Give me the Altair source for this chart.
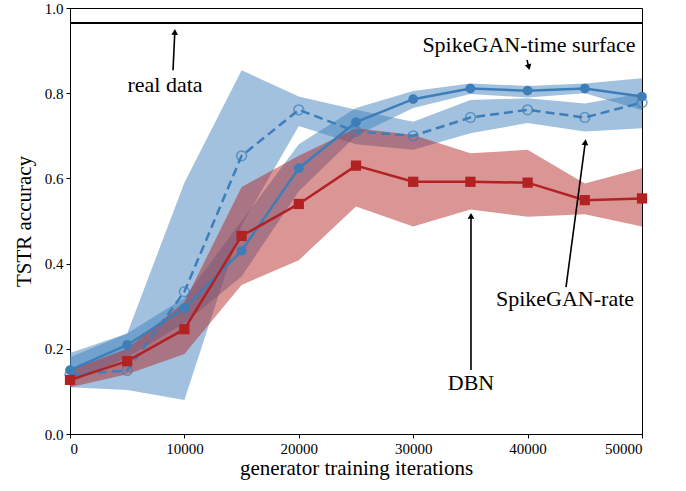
import altair as alt
import pandas as pd

iters = [0, 5000, 10000, 15000, 20000, 25000, 30000, 35000, 40000, 45000, 50000]

ts_mean = [0.150, 0.209, 0.295, 0.430, 0.624, 0.732, 0.786, 0.811, 0.806, 0.811, 0.792]
ts_lo = [0.120, 0.180, 0.260, 0.370, 0.570, 0.700, 0.765, 0.798, 0.790, 0.800, 0.760]
ts_hi = [0.180, 0.236, 0.320, 0.500, 0.680, 0.765, 0.805, 0.823, 0.817, 0.823, 0.835]

rate_mean = [0.140, 0.149, 0.334, 0.653, 0.761, 0.710, 0.700, 0.743, 0.761, 0.743, 0.778]
rate_lo = [0.110, 0.103, 0.080, 0.490, 0.723, 0.680, 0.667, 0.706, 0.730, 0.710, 0.718]
rate_hi = [0.190, 0.236, 0.590, 0.854, 0.792, 0.761, 0.733, 0.784, 0.788, 0.776, 0.800]

dbn_mean = [0.127, 0.171, 0.246, 0.465, 0.540, 0.630, 0.592, 0.592, 0.590, 0.549, 0.553]
dbn_lo = [0.110, 0.140, 0.188, 0.350, 0.408, 0.534, 0.487, 0.527, 0.510, 0.516, 0.487]
dbn_hi = [0.150, 0.200, 0.310, 0.580, 0.653, 0.718, 0.702, 0.659, 0.667, 0.588, 0.624]

real_acc = [0.965]

ann_text = ["real data", "SpikeGAN-time surface", "SpikeGAN-rate", "DBN"]
ann_x = [8304, 40122, 43269, 35052]
ann_y = [0.819, 0.913, 0.317, 0.120]
arr_x = [9004, 39948, 43357, 35052]
arr_y = [0.854, 0.878, 0.345, 0.150]
arr_x2 = [9161, 40105, 45044, 35052]
arr_y2 = [0.9437, 0.861, 0.685, 0.512]
arr_angle = [2.7, 166, 7.6, 0]

BLUE = "#3d7eb9"
RED = "#b22222"
FONT = "Liberation Serif"

df = pd.DataFrame({
    "it": iters,
    "ts": ts_mean, "ts_lo": ts_lo, "ts_hi": ts_hi,
    "rate": rate_mean, "rate_lo": rate_lo, "rate_hi": rate_hi,
    "dbn": dbn_mean, "dbn_lo": dbn_lo, "dbn_hi": dbn_hi,
})
ann = pd.DataFrame({"t": ann_text, "x": ann_x, "y": ann_y})
arr = pd.DataFrame({"x": arr_x, "y": arr_y, "x2": arr_x2, "y2": arr_y2, "a": arr_angle})
real = pd.DataFrame({"y": real_acc})

xs = alt.Scale(domain=[0, 50000], nice=False)
ys = alt.Scale(domain=[0, 1], nice=False)
X = alt.X("it:Q", scale=xs, axis=alt.Axis(values=[0, 10000, 20000, 30000, 40000, 50000], format="d",
                                           title="generator training iterations"))
base = alt.Chart(df)

def Y(f):
    return alt.Y(f + ":Q", scale=ys, axis=alt.Axis(values=[0, 0.2, 0.4, 0.6, 0.8, 1.0], format=".1f",
                                                     title="TSTR accuracy"))

band_rate = base.mark_area(color=BLUE, opacity=0.48).encode(x=X, y=Y("rate_lo"), y2="rate_hi:Q")
band_ts = base.mark_area(color=BLUE, opacity=0.48).encode(x=X, y=Y("ts_lo"), y2="ts_hi:Q")
band_dbn = base.mark_area(color=RED, opacity=0.48).encode(x=X, y=Y("dbn_lo"), y2="dbn_hi:Q")

line_rate = base.mark_line(color=BLUE, strokeWidth=2.5, strokeDash=[9, 5]).encode(x=X, y=Y("rate"))
pt_rate = base.mark_point(color=BLUE, shape="circle", filled=False, size=95, strokeWidth=1.5).encode(x=X, y=Y("rate"))
line_ts = base.mark_line(color=BLUE, strokeWidth=2.5).encode(x=X, y=Y("ts"))
pt_ts = base.mark_point(color=BLUE, shape="circle", filled=True, opacity=1, size=95).encode(x=X, y=Y("ts"))
line_dbn = base.mark_line(color=RED, strokeWidth=2.5).encode(x=X, y=Y("dbn"))
pt_dbn = base.mark_point(color=RED, shape="square", filled=True, opacity=1, size=105).encode(x=X, y=Y("dbn"))

real_line = alt.Chart(real).mark_rule(color="black", strokeWidth=2).encode(y=alt.Y("y:Q", scale=ys))

texts = alt.Chart(ann).mark_text(font=FONT, fontSize=22, color="black").encode(
    x=alt.X("x:Q", scale=xs), y=alt.Y("y:Q", scale=ys), text="t:N")
arrows = alt.Chart(arr).mark_rule(color="black", strokeWidth=1.6).encode(
    x=alt.X("x:Q", scale=xs), y=alt.Y("y:Q", scale=ys), x2="x2:Q", y2="y2:Q")
heads = alt.Chart(arr).mark_point(shape="triangle-up", filled=True, color="black", opacity=1, size=45).encode(
    x=alt.X("x2:Q", scale=xs), y=alt.Y("y2:Q", scale=ys), angle=alt.Angle("a:Q", scale=None))

chart = alt.layer(
    band_rate, band_ts, band_dbn,
    line_rate, pt_rate, line_ts, pt_ts, line_dbn, pt_dbn,
    real_line, arrows, heads, texts,
).properties(
    width=572, height=426,
    padding={"left": 70, "top": 8, "right": 44, "bottom": 57},
    autosize=alt.AutoSizeParams(type="none"),
).configure_view(stroke="black", strokeWidth=1).configure_axis(
    grid=False, labelFont=FONT, titleFont=FONT, labelFontSize=15, titleFontSize=21,
    titleFontWeight="normal", labelColor="black", titleColor="black",
    domainColor="black", tickColor="black", tickSize=4, labelPadding=3,
).configure_axisX(titlePadding=1).configure_axisY(titlePadding=10)

chart.save("out.html", embed_options={"renderer": "svg", "actions": False})
